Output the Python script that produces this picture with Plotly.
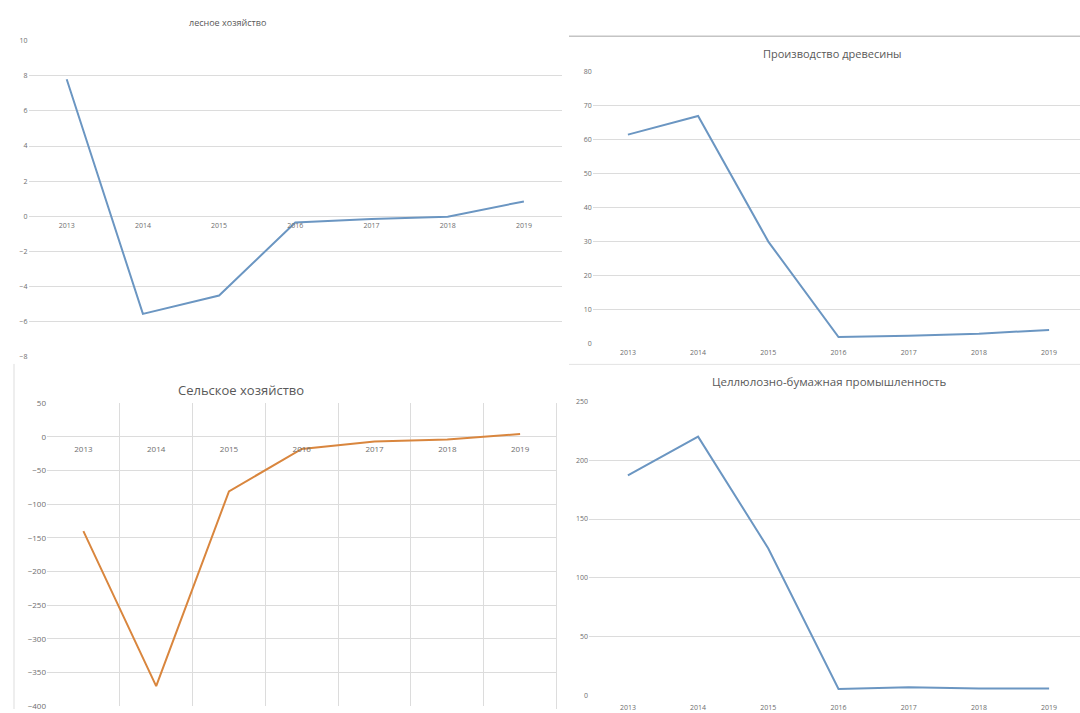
import plotly.graph_objects as go

years = ["2013", "2014", "2015", "2016", "2017", "2018", "2019"]
forestry = [7.8, -5.55, -4.5, -0.35, -0.15, -0.02, 0.85]
wood_production = [61.5, 67.0, 30.0, 1.9, 2.3, 2.9, 4.0]
agriculture = [-140, -370, -81, -18, -7, -4, 4]
pulp_paper = [187, 220, 125, 5.5, 7, 6, 6]

titles = ["лесное хозяйство", "Производство древесины",
          "Сельское хозяйство", "Целлюлозно-бумажная промышленность"]

W, H = 1080, 713
BLUE = "#6B96C2"
ORANGE = "#D9863E"
GRID = "#DCDCDC"
TXT = "#6E6E6E"
FONT = "Open Sans"


def px(x):
    return x / W


def py(y):
    return 1 - y / H


fig = go.Figure()
fig.add_trace(go.Scatter(x=years, y=forestry, mode="lines", line=dict(color=BLUE, width=2),
                         xaxis="x", yaxis="y", showlegend=False))
fig.add_trace(go.Scatter(x=years, y=wood_production, mode="lines", line=dict(color=BLUE, width=2),
                         xaxis="x2", yaxis="y2", showlegend=False))
fig.add_trace(go.Scatter(x=years, y=agriculture, mode="lines", line=dict(color=ORANGE, width=2),
                         xaxis="x3", yaxis="y3", showlegend=False))
fig.add_trace(go.Scatter(x=years, y=pulp_paper, mode="lines", line=dict(color=BLUE, width=2),
                         xaxis="x4", yaxis="y4", showlegend=False))

tick_small = dict(family=FONT, size=7, color=TXT)
tick_mid = dict(family=FONT, size=8, color=TXT)


def yax(d0, d1, rng, dtick, font, anchor):
    return dict(domain=[py(d1), py(d0)], range=rng, dtick=dtick, showgrid=True,
                gridcolor=GRID, gridwidth=1, zeroline=False, showline=False,
                tickfont=font, ticks="", anchor=anchor, fixedrange=True)


def xax(x0, x1, rng, font, standoff, anchor=None, position=None, boundaries=False):
    d = dict(domain=[px(x0), min(px(x1), 1)], range=rng, type="category",
             showgrid=boundaries, gridcolor=GRID, zeroline=False, showline=False,
             ticks="", tickfont=font, fixedrange=True, ticklabelstandoff=standoff)
    if boundaries:
        d["tickson"] = "boundaries"
    if position is not None:
        d["anchor"] = "free"
        d["position"] = position
    else:
        d["anchor"] = anchor
    return d


# Panel 1: y=10 at 35px, y=-8 at 356px
y1_top, y1_bot = 35, 356
zero1 = y1_top + (10 - 0) / 18 * (y1_bot - y1_top)
fig.update_layout(
    xaxis=xax(28.6, 562, [-0.5, 6.5], tick_small, 4, position=py(zero1)),
    yaxis=yax(y1_top, y1_bot, [-8, 10], 2, tick_small, "x"),
)

# Panel 2: 80 at 66.7, 0 at 342.3
fig.update_layout(
    xaxis2=xax(592.8, 1080, [-0.5, 6.44], tick_small, 4, anchor="y2"),
    yaxis2=yax(66.7, 342.3, [0, 80], 10, tick_small, "x2"),
)

# Panel 3: 50 at 402.7, -400 at 710.3
y3_top, y3_bot = 402.7, 710.3
zero3 = y3_top + 50 / 450 * (y3_bot - y3_top)
fig.update_layout(
    xaxis3=xax(47, 556.5, [-0.5, 6.5], tick_mid, 6, position=py(zero3), boundaries=True),
    yaxis3=yax(y3_top, y3_bot, [-400, 50], 50, tick_mid, "x3"),
)

# Panel 4: 250 at 401, 0 at 699.3
fig.update_layout(
    xaxis4=xax(589, 1080, [-0.554, 6.44], tick_small, 7, anchor="y4"),
    yaxis4=yax(401, 699.3, [0, 250], 50, tick_small, "x4"),
)

# Titles
title_pos = [(227, 17, 9), (832, 48, 11), (241, 389, 13), (829, 381, 11.5)]
for t, (x, y, s) in zip(titles, title_pos):
    fig.add_annotation(text=t, x=px(x), y=py(y), xref="paper", yref="paper",
                       showarrow=False, xanchor="center", yanchor="middle",
                       font=dict(family=FONT, size=s, color="#595959"))

# Chart-area borders visible in the composite
shapes = [
    dict(type="line", xref="paper", yref="paper", x0=px(569), x1=1, y0=py(30.7), y1=py(30.7),
         line=dict(color="#C4C4C4", width=1.5)),
    dict(type="line", xref="paper", yref="paper", x0=px(569), x1=1, y0=py(363.5), y1=py(363.5),
         line=dict(color="#E4E4E4", width=1)),
    dict(type="line", xref="paper", yref="paper", x0=px(14), x1=px(14), y0=py(363), y1=0,
         line=dict(color="#DDDDDD", width=1)),
    dict(type="line", xref="paper", yref="paper", x0=px(556.5), x1=px(556.5), y0=py(402.7), y1=0,
         line=dict(color="#DDDDDD", width=1)),
]
fig.update_layout(shapes=shapes)

fig.update_layout(width=W, height=H, margin=dict(l=0, r=0, t=0, b=0),
                  paper_bgcolor="white", plot_bgcolor="white",
                  font=dict(family=FONT, color=TXT))

fig.write_html("out.html", config={"displayModeBar": False},
               post_script="document.body.style.margin='0';document.body.style.padding='0';"
                           "document.body.style.overflow='hidden';"
                           "document.documentElement.style.overflow='hidden';")
